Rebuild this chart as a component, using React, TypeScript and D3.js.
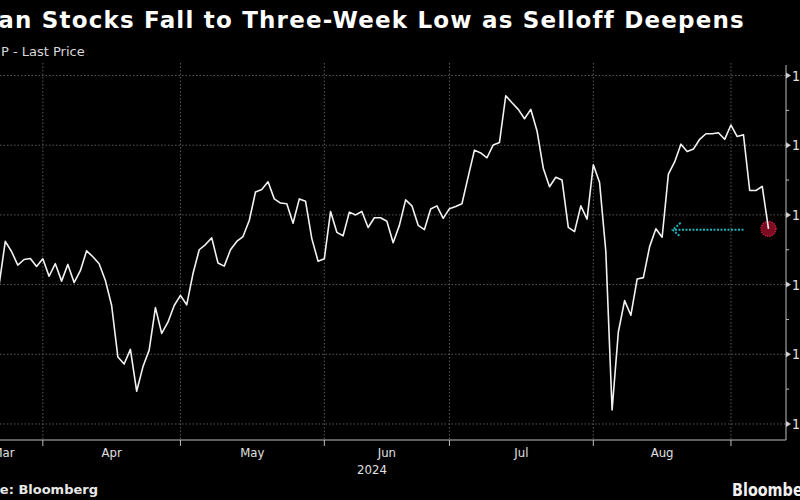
import React from 'react';
import * as d3 from 'd3';

// daily closes, one per weekday starting at startDate
const startDate = '2024-03-21';
const prices = [
  1499, 1562, 1547.5, 1528, 1536, 1537.5, 1526, 1537, 1512, 1530,
  1505, 1529, 1503, 1520, 1548.5, 1540, 1530, 1506, 1470, 1396,
  1386, 1407, 1347, 1382, 1406, 1467, 1430, 1446, 1470, 1484.5,
  1471, 1515.5, 1550, 1557.5, 1567, 1531, 1526.5, 1550, 1562, 1569,
  1592, 1633, 1636.5, 1647.5, 1623, 1617, 1616, 1588, 1623, 1619.5,
  1566, 1533.5, 1537, 1605, 1575, 1570, 1604, 1600, 1605, 1582,
  1596, 1596, 1591, 1560, 1585, 1621.5, 1613, 1585, 1579, 1608.5,
  1613, 1595, 1609, 1612, 1616, 1655, 1693, 1689, 1682, 1700.5,
  1704, 1771, 1761, 1751.5, 1738, 1751.5, 1720.5, 1667, 1640.5, 1654,
  1650, 1582, 1576, 1613, 1594, 1672, 1646.5, 1547.5, 1320, 1432,
  1477, 1456, 1508, 1510, 1554.5, 1580, 1568, 1658.5, 1676, 1701.5,
  1691, 1694.5, 1708.5, 1716.5, 1716.5, 1718, 1708.5, 1729, 1712.5, 1715,
  1635, 1635, 1641, 1580,
];
const monthStarts = ['2024-04-01', '2024-05-01', '2024-06-03', '2024-07-01', '2024-08-01', '2024-09-02'];
const monthLabels = ['Mar', 'Apr', 'May', 'Jun', 'Jul', 'Aug'];
const yTicks = [1300, 1400, 1500, 1600, 1700, 1800];
const yMinor = [1350, 1450, 1550, 1650, 1750];

const W = 800;
const H = 500;
const plotTop = 63;
const plotBottom = 440;
const plotRight = 786;

const parse = d3.timeParse('%Y-%m-%d');
const start = parse(startDate) as Date;
const weekdayIndex = (s: string) =>
  d3.timeDay.range(start, parse(s) as Date).filter(d => d.getDay() % 6 !== 0).length;

const tickIdx = monthStarts.map(weekdayIndex);

const x = d3.scaleLinear().domain([-5.6, 125.8]).range([-36, plotRight]);
const y = d3.scaleLinear().domain([1277, 1818]).range([plotBottom, plotTop]);

const labelFont = "'DejaVu Sans Condensed', 'Liberation Sans Narrow', 'DejaVu Sans', sans-serif";

export default function App() {
  const line = d3.line<number>()
    .x((_, i) => x(i))
    .y(d => y(d));

  const lastI = prices.length - 1;
  const lx = x(lastI);
  const ly = y(prices[lastI]);

  const bounds = [x.domain()[0], ...tickIdx];
  const arrowStart = lx - 25;
  const arrowEnd = x(tickIdx[4] + 13) - 2;

  return (
    <svg width={W} height={H}
      style={{ position: 'fixed', left: 0, top: 0, display: 'block', background: '#000' }}>
      <rect width={W} height={H} fill="#000" />

      <text x={745} y={28} textAnchor="end" fill="#fff" fontSize={23} fontWeight="bold"
        letterSpacing={1.2} fontFamily="'DejaVu Sans', sans-serif">
        Japan Stocks Fall to Three-Week Low as Selloff Deepens
      </text>
      <text x={1} y={56} fill="#d8d8d8" fontSize={13} fontFamily="'DejaVu Sans', sans-serif">
        P - Last Price
      </text>

      {/* grid */}
      {yTicks.map(t => (
        <line key={t} x1={0} x2={plotRight} y1={y(t)} y2={y(t)}
          stroke="#5a5a5a" strokeDasharray="1.5,2" strokeWidth={1} />
      ))}
      {tickIdx.map(t => (
        <line key={t} x1={x(t)} x2={x(t)} y1={plotTop} y2={plotBottom}
          stroke="#5a5a5a" strokeDasharray="1.5,2" strokeWidth={1} />
      ))}

      {/* axes */}
      <line x1={0} x2={plotRight} y1={plotBottom} y2={plotBottom} stroke="#bdbdbd" strokeWidth={1} />
      <line x1={plotRight} x2={plotRight} y1={plotTop + 2} y2={plotBottom} stroke="#bdbdbd" strokeWidth={1} />
      {tickIdx.map(t => (
        <line key={'t' + t} x1={x(t)} x2={x(t)} y1={plotBottom} y2={plotBottom + 6} stroke="#bdbdbd" />
      ))}
      {yTicks.map(t => (
        <path key={'m' + t} d={`M${plotRight},${y(t) - 3}L${plotRight + 5},${y(t)}L${plotRight},${y(t) + 3}Z`}
          fill="#d0d0d0" />
      ))}
      {yMinor.map(t => (
        <line key={'n' + t} x1={plotRight} x2={plotRight + 3} y1={y(t)} y2={y(t)} stroke="#bdbdbd" />
      ))}
      {yTicks.map(t => (
        <text key={'l' + t} x={plotRight + 6} y={y(t) + 5} fill="#e0e0e0" fontSize={14}
          fontFamily={labelFont}>
          {d3.format(',')(t)}
        </text>
      ))}

      {monthLabels.map((m, i) => (
        <text key={m} x={x((bounds[i] + bounds[i + 1]) / 2)} y={457} textAnchor="middle"
          fill="#e0e0e0" fontSize={13} fontFamily={labelFont}>
          {m}
        </text>
      ))}
      <text x={372} y={474} textAnchor="middle" fill="#e0e0e0" fontSize={13} fontFamily={labelFont}>
        2024
      </text>

      {/* annotation */}
      <circle cx={lx} cy={ly} r={7.5} fill="#7d0c22" stroke="#e0264a" strokeWidth={1.2}
        strokeDasharray="1.2,1.2" />
      <line x1={arrowStart} x2={arrowEnd + 1} y1={ly + 1} y2={ly + 1} stroke="#1fb3bb"
        strokeWidth={2} strokeDasharray="2,1.5" />
      <path d={`M${arrowEnd + 8},${ly - 6}L${arrowEnd},${ly + 1}L${arrowEnd + 8},${ly + 8}`}
        fill="none" stroke="#1fb3bb" strokeWidth={2} strokeDasharray="2,1.5" />

      <path d={line(prices) ?? ''} fill="none" stroke="#f2f2f2" strokeWidth={1.6}
        strokeLinejoin="round" />

      <text x={98} y={494} textAnchor="end" fill="#e8e8e8" fontSize={13} fontWeight="bold"
        fontFamily="'DejaVu Sans', sans-serif">
        Source: Bloomberg
      </text>
      <text x={732} y={496} fill="#f0f0f0" fontSize={18} fontWeight="bold" textLength={88}
        lengthAdjust="spacingAndGlyphs" fontFamily="'DejaVu Sans', sans-serif">
        Bloomberg
      </text>
    </svg>
  );
}
